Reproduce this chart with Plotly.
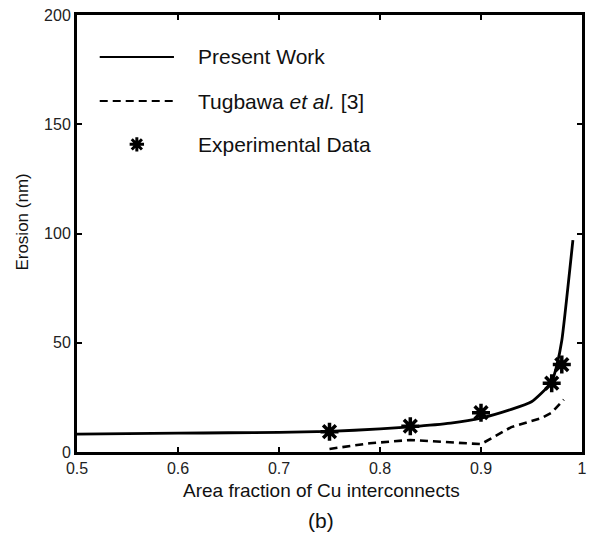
import plotly.graph_objects as go

# ---- data ----
present_x = [0.5, 0.55, 0.6, 0.65, 0.7, 0.75, 0.8, 0.83, 0.87, 0.9, 0.93, 0.95, 0.96, 0.97, 0.975, 0.98, 0.991]
present_y = [8.2, 8.4, 8.6, 8.8, 9.0, 9.4, 10.6, 11.5, 13.2, 15.5, 19.5, 23.0, 27.0, 32.0, 39.5, 51.0, 97.0]

tug_x = [0.75, 0.79, 0.83, 0.86, 0.9, 0.93, 0.96, 0.97, 0.975, 0.982]
tug_y = [1.4, 4.0, 5.5, 4.8, 3.6, 11.4, 15.5, 18.0, 20.5, 24.0]

exp_x = [0.75, 0.83, 0.90, 0.97, 0.98]
exp_y = [9.3, 11.8, 18.0, 31.5, 40.0]

x_ticks = [0.5, 0.6, 0.7, 0.8, 0.9, 1.0]
x_tick_labels = ["0.5", "0.6", "0.7", "0.8", "0.9", "1"]
y_ticks = [0, 50, 100, 150, 200]

legend_labels = ["Present Work", "Tugbawa <i>et al.</i> [3]", "Experimental Data"]

FONT = "Liberation Sans, Arial, sans-serif"

fig = go.Figure()
fig.add_trace(go.Scatter(x=present_x, y=present_y, mode="lines",
                         line=dict(color="black", width=2.8, shape="spline", smoothing=0.5),
                         showlegend=False))
fig.add_trace(go.Scatter(x=tug_x, y=tug_y, mode="lines",
                         line=dict(color="black", width=2.6, dash="8px,5px"), showlegend=False))
fig.add_trace(go.Scatter(x=exp_x, y=exp_y, mode="markers",
                         marker=dict(symbol="asterisk-open", size=15, color="black",
                                     line=dict(color="black", width=3.5)),
                         showlegend=False))

# ---- manual legend (paper coords) ----
leg_x0, leg_x1, leg_tx = 0.045, 0.192, 0.235
leg_rows = [0.904, 0.803, 0.704]
fig.add_shape(type="line", xref="paper", yref="paper", x0=leg_x0, x1=leg_x1,
              y0=leg_rows[0], y1=leg_rows[0], line=dict(color="black", width=2))
fig.add_shape(type="line", xref="paper", yref="paper", x0=leg_x0, x1=leg_x1,
              y0=leg_rows[1], y1=leg_rows[1], line=dict(color="black", width=2, dash="8px,5px"))
fig.add_trace(go.Scatter(x=[(leg_x0 + leg_x1) / 2], y=[leg_rows[2]], mode="markers",
                         xaxis="x2", yaxis="y2",
                         marker=dict(symbol="asterisk-open", size=12, color="black",
                                     line=dict(color="black", width=3)),
                         showlegend=False, hoverinfo="skip"))
for lab, ry in zip(legend_labels, leg_rows):
    fig.add_annotation(text=lab, xref="paper", yref="paper", x=leg_tx, y=ry,
                       xanchor="left", yanchor="middle", showarrow=False,
                       font=dict(family=FONT, size=21, color="#111"))

# ---- axis titles ----
fig.add_annotation(text="Area fraction of Cu interconnects", xref="paper", yref="paper",
                   x=0.484, y=-0.089, xanchor="center", yanchor="middle", showarrow=False,
                   font=dict(family=FONT, size=19, color="#111"))
fig.add_annotation(text="(b)", xref="paper", yref="paper",
                   x=0.484, y=-0.157, xanchor="center", yanchor="middle", showarrow=False,
                   font=dict(family=FONT, size=21, color="#111"))
fig.add_annotation(text="Erosion (nm)", xref="paper", yref="paper",
                   x=-0.108, y=0.526, xanchor="center", yanchor="middle", showarrow=False,
                   textangle=-90, font=dict(family=FONT, size=17, color="#111"))

axis_common = dict(showgrid=False, zeroline=False, showline=True, linecolor="black",
                   linewidth=3, mirror="ticks", ticks="inside", ticklen=5, tickwidth=2,
                   tickcolor="black", tickfont=dict(family=FONT, size=16, color="#222"))

fig.update_layout(
    width=594, height=537,
    margin=dict(l=77, r=7, t=13, b=85),
    paper_bgcolor="white", plot_bgcolor="white",
    xaxis=dict(range=[0.5, 1.0], tickvals=x_ticks, ticktext=x_tick_labels, **axis_common),
    yaxis=dict(range=[0, 200], tickvals=y_ticks, **axis_common),
    xaxis2=dict(range=[0, 1], overlaying="x", visible=False),
    yaxis2=dict(range=[0, 1], overlaying="y", visible=False),
    showlegend=False,
)

fig.write_html("out.html")
